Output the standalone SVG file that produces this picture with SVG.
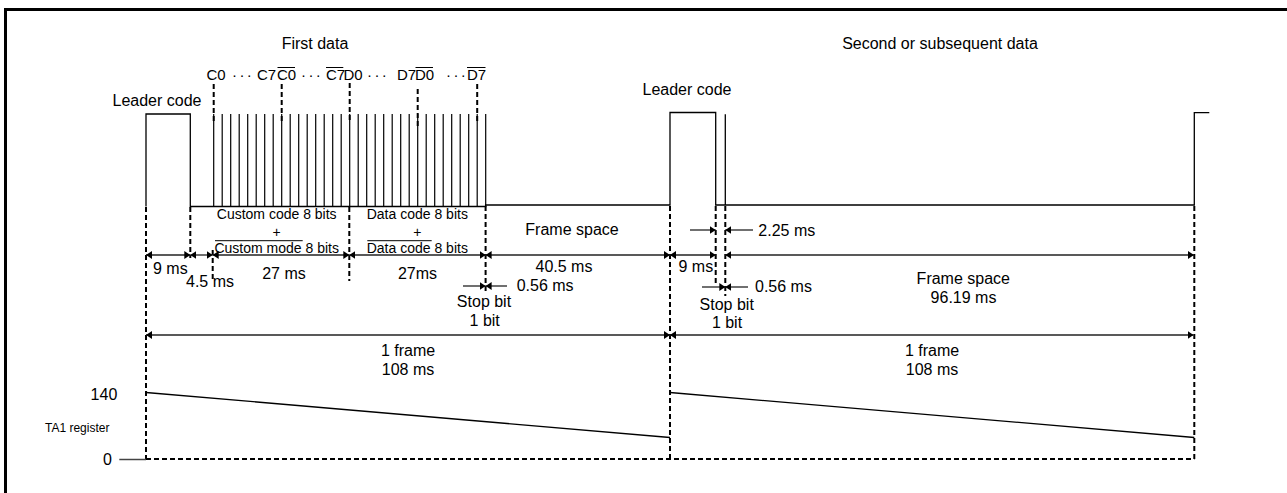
<svg xmlns="http://www.w3.org/2000/svg" width="1287" height="493" viewBox="0 0 1287 493">
<style>
text{font-family:"Liberation Sans",Arial,sans-serif;fill:#000}
.f16{font-size:16px}
.f15{font-size:15px}
.f14{font-size:14px}
.f12{font-size:12px}
.m{text-anchor:middle}
.e{text-anchor:end}
.dots{letter-spacing:2.4px}
.wave{fill:none;stroke:#000;stroke-width:1.3}
.pulse{stroke:#000;stroke-width:1.2}
.dash{fill:none;stroke:#000;stroke-width:2;stroke-dasharray:5 3}
.dim2{fill:none;stroke:#222;stroke-width:1.3;marker-start:url(#ah);marker-end:url(#ah)}
.dim1{fill:none;stroke:#222;stroke-width:1.3;marker-end:url(#ah)}
.ov{stroke:#000;stroke-width:1}
</style>
<defs>
<marker id="ah" viewBox="0 0 6 8" refX="6" refY="4" markerWidth="6" markerHeight="8" markerUnits="userSpaceOnUse" orient="auto-start-reverse"><path d="M0,0 L6,4 L0,8 z" fill="#000"/></marker>
</defs>
<rect x="5.5" y="9.5" width="1400" height="600" fill="none" stroke="#000" stroke-width="3"/>

<g id="titles">
<text class="f16 m" x="315" y="48.5">First data</text>
<text class="f16 m" x="940" y="48.5">Second or subsequent data</text>
<text class="f16 m" x="157" y="106">Leader code</text>
<text class="f16 m" x="687" y="95">Leader code</text>
</g>

<g id="bit-labels">
<text class="f15" y="80"><tspan x="206.5">C0</tspan><tspan class="dots" x="232">···</tspan><tspan x="257">C7</tspan><tspan x="277">C0</tspan><tspan class="dots" x="301">···</tspan><tspan x="326">C7</tspan><tspan x="343.5">D0</tspan><tspan class="dots" x="367">···</tspan><tspan x="397">D7</tspan><tspan x="415">D0</tspan><tspan class="dots" x="446">···</tspan><tspan x="467">D7</tspan></text>
<line class="ov" x1="277.5" y1="67.5" x2="295" y2="67.5"/>
<line class="ov" x1="326" y1="67.5" x2="343.3" y2="67.5"/>
<line class="ov" x1="415.5" y1="67.5" x2="433" y2="67.5"/>
<line class="ov" x1="467" y1="67.5" x2="485.5" y2="67.5"/>
</g>

<g id="waveform">
<path class="wave" d="M146,206.5 V114 H190.3 V206.5 H485.6 V205 H670 V112.5 H715.7 V205 H1194.3 V112.7 H1209.3"/>
<path class="wave" d="M725.3,205 V114.3"/>
<g id="pulses">
<line class="pulse" x1="213.7" y1="206.5" x2="213.7" y2="114"/>
<line class="pulse" x1="222.2" y1="206.5" x2="222.2" y2="114"/>
<line class="pulse" x1="230.7" y1="206.5" x2="230.7" y2="114"/>
<line class="pulse" x1="239.2" y1="206.5" x2="239.2" y2="114"/>
<line class="pulse" x1="247.7" y1="206.5" x2="247.7" y2="114"/>
<line class="pulse" x1="256.2" y1="206.5" x2="256.2" y2="114"/>
<line class="pulse" x1="264.7" y1="206.5" x2="264.7" y2="114"/>
<line class="pulse" x1="273.2" y1="206.5" x2="273.2" y2="114"/>
<line class="pulse" x1="281.7" y1="206.5" x2="281.7" y2="114"/>
<line class="pulse" x1="290.2" y1="206.5" x2="290.2" y2="114"/>
<line class="pulse" x1="298.7" y1="206.5" x2="298.7" y2="114"/>
<line class="pulse" x1="307.2" y1="206.5" x2="307.2" y2="114"/>
<line class="pulse" x1="315.7" y1="206.5" x2="315.7" y2="114"/>
<line class="pulse" x1="324.2" y1="206.5" x2="324.2" y2="114"/>
<line class="pulse" x1="332.7" y1="206.5" x2="332.7" y2="114"/>
<line class="pulse" x1="341.2" y1="206.5" x2="341.2" y2="114"/>
<line class="pulse" x1="349.7" y1="206.5" x2="349.7" y2="114"/>
<line class="pulse" x1="358.2" y1="206.5" x2="358.2" y2="114"/>
<line class="pulse" x1="366.7" y1="206.5" x2="366.7" y2="114"/>
<line class="pulse" x1="375.2" y1="206.5" x2="375.2" y2="114"/>
<line class="pulse" x1="383.7" y1="206.5" x2="383.7" y2="114"/>
<line class="pulse" x1="392.2" y1="206.5" x2="392.2" y2="114"/>
<line class="pulse" x1="400.7" y1="206.5" x2="400.7" y2="114"/>
<line class="pulse" x1="409.2" y1="206.5" x2="409.2" y2="114"/>
<line class="pulse" x1="417.7" y1="206.5" x2="417.7" y2="114"/>
<line class="pulse" x1="426.2" y1="206.5" x2="426.2" y2="114"/>
<line class="pulse" x1="434.7" y1="206.5" x2="434.7" y2="114"/>
<line class="pulse" x1="443.2" y1="206.5" x2="443.2" y2="114"/>
<line class="pulse" x1="451.7" y1="206.5" x2="451.7" y2="114"/>
<line class="pulse" x1="460.2" y1="206.5" x2="460.2" y2="114"/>
<line class="pulse" x1="468.7" y1="206.5" x2="468.7" y2="114"/>
<line class="pulse" x1="477.2" y1="206.5" x2="477.2" y2="114"/>
<line class="pulse" x1="485.7" y1="206.5" x2="485.7" y2="114"/>
</g>
</g>

<g id="guides">
<line class="dash" x1="213.7" y1="84" x2="213.7" y2="123"/>
<line class="dash" x1="281.7" y1="84" x2="281.7" y2="122"/>
<line class="dash" x1="349.7" y1="83" x2="349.7" y2="120"/>
<line class="dash" x1="417.7" y1="89" x2="417.7" y2="127"/>
<line class="dash" x1="477.2" y1="84" x2="477.2" y2="123"/>
<line class="dash" x1="146" y1="207" x2="146" y2="459"/>
<line class="dash" x1="190.3" y1="207" x2="190.3" y2="258"/>
<line class="dash" x1="212.7" y1="250" x2="212.7" y2="280"/>
<line class="dash" x1="349.3" y1="207" x2="349.3" y2="281"/>
<line class="dash" x1="485.6" y1="206" x2="485.6" y2="293"/>
<line class="dash" x1="670" y1="206" x2="670" y2="459"/>
<line class="dash" x1="715.7" y1="206" x2="715.7" y2="283"/>
<line class="dash" x1="725.3" y1="206" x2="725.3" y2="296"/>
<line class="dash" x1="1194.3" y1="206" x2="1194.3" y2="459"/>
</g>

<g id="connectors">
<line class="dim2" x1="146" y1="255" x2="190.3" y2="255"/>
<line class="dim2" x1="190.3" y1="255" x2="212.7" y2="255"/>
<line class="dim2" x1="212.7" y1="255" x2="349.3" y2="255"/>
<line class="dim2" x1="349.3" y1="255" x2="485.6" y2="255"/>
<line class="dim2" x1="485.6" y1="255" x2="670" y2="255"/>
<line class="dim2" x1="670" y1="255" x2="715.7" y2="255"/>
<line class="dim2" x1="725.3" y1="255" x2="1194" y2="255"/>
<line class="dim1" x1="690" y1="230" x2="715.7" y2="230"/>
<line class="dim1" x1="753" y1="230" x2="725.3" y2="230"/>
<line class="dim1" x1="463" y1="286" x2="485.6" y2="286"/>
<line class="dim1" x1="507" y1="286" x2="485.6" y2="286"/>
<line class="dim1" x1="702" y1="287" x2="725.3" y2="287"/>
<line class="dim1" x1="748" y1="287" x2="725.3" y2="287"/>
<line class="dim2" x1="146" y1="335" x2="670" y2="335"/>
<line class="dim2" x1="670" y1="335" x2="1193.5" y2="335"/>
</g>

<g id="dim-labels">
<text class="f14 m" x="276.7" y="219.3">Custom code 8 bits</text>
<text class="f14 m" x="276.7" y="236.6">+</text>
<text class="f14 m" x="276.7" y="252.5">Custom mode 8 bits</text>
<line class="ov" x1="215" y1="240.7" x2="302.7" y2="240.7"/>
<text class="f14 m" x="417.3" y="219.3">Data code 8 bits</text>
<text class="f14 m" x="417.3" y="236.6">+</text>
<text class="f14 m" x="417.3" y="252.5">Data code 8 bits</text>
<line class="ov" x1="367.3" y1="240.7" x2="431.7" y2="240.7"/>
<text class="f16 m" x="170.3" y="274">9 ms</text>
<text class="f16 m" x="210" y="287">4.5 ms</text>
<text class="f16 m" x="284" y="278.5">27 ms</text>
<text class="f16 m" x="417.5" y="278.5">27ms</text>
<text class="f16 m" x="572" y="234.5">Frame space</text>
<text class="f16 m" x="564" y="271.5">40.5 ms</text>
<text class="f16" x="516.7" y="291">0.56 ms</text>
<text class="f16 m" x="484" y="306.5">Stop bit</text>
<text class="f16 m" x="484.7" y="325.5">1 bit</text>
<text class="f16 m" x="695.8" y="272">9 ms</text>
<text class="f16" x="758.3" y="236">2.25 ms</text>
<text class="f16" x="755" y="292">0.56 ms</text>
<text class="f16 m" x="726.7" y="310">Stop bit</text>
<text class="f16 m" x="727" y="328.3">1 bit</text>
<text class="f16 m" x="963.3" y="284">Frame space</text>
<text class="f16 m" x="963.5" y="303.3">96.19 ms</text>
<text class="f16 m" x="408" y="356">1 frame</text>
<text class="f16 m" x="408" y="375">108 ms</text>
<text class="f16 m" x="932" y="356">1 frame</text>
<text class="f16 m" x="932" y="375">108 ms</text>
</g>

<g id="ta1-register">
<text class="f16 e" x="117.3" y="399.5">140</text>
<text class="f12" x="45" y="432">TA1 register</text>
<text class="f16" x="103" y="465">0</text>
<line x1="119.3" y1="459.5" x2="146" y2="459.5" stroke="#444" stroke-width="1.5"/>
<line class="dash" x1="146" y1="459" x2="1194.3" y2="459"/>
<line class="wave" x1="146" y1="392.5" x2="670" y2="437.5"/>
<line class="wave" x1="670" y1="392.5" x2="1194.3" y2="437.5"/>
</g>
</svg>
